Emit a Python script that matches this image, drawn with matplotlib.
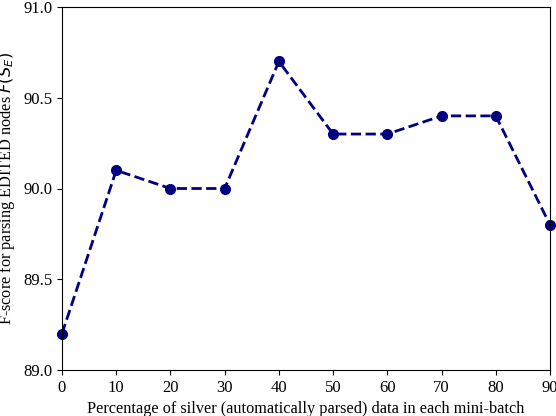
import matplotlib
matplotlib.use("Agg")
import matplotlib.pyplot as plt

x_vals = [0, 10, 20, 30, 40, 50, 60, 70, 80, 90]
f_scores = [89.2, 90.1, 90.0, 90.0, 90.7, 90.3, 90.3, 90.4, 90.4, 89.8]
x_ticks = [0, 10, 20, 30, 40, 50, 60, 70, 80, 90]
y_ticks = [89.0, 89.5, 90.0, 90.5, 91.0]

plt.rcParams['font.family'] = ['Liberation Serif', 'DejaVu Serif']
plt.rcParams['font.size'] = 12

fig = plt.figure(figsize=(5.56, 4.16), dpi=100)
ax = fig.add_axes([62/556, 1 - 370/416, (550 - 62)/556, (370 - 7)/416])
ax.plot(x_vals, f_scores, linestyle='--', marker='o', color='navy',
        linewidth=2, markersize=7, clip_on=False)
ax.set_xlim(0, 90)
ax.set_ylim(89.0, 91.0)
ax.set_xticks(x_ticks)
ax.set_yticks(y_ticks)
ax.set_yticklabels([f"{v:.1f}" for v in y_ticks])
ax.tick_params(labelsize=12)
ax.set_xlabel("Percentage of silver (automatically parsed) data in each mini-batch",
              fontsize=11.7, labelpad=4)
ax.set_ylabel("F-score for parsing EDITED nodes $F(S_E)$", fontsize=11.7)
fig.savefig("out.png", dpi=100)
